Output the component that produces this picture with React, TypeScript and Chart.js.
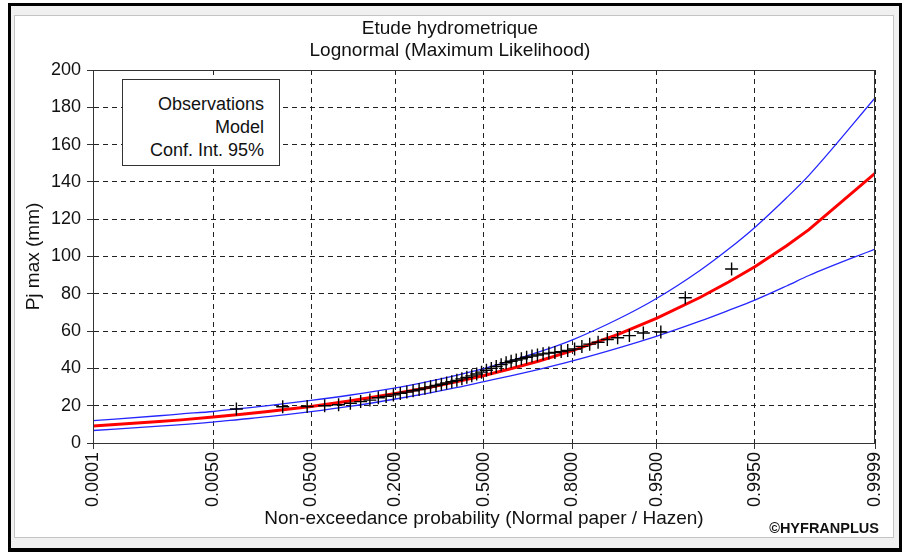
import { useEffect, useRef } from 'react';
import { Chart, registerables } from 'chart.js';

Chart.register(...registerables);

const chartTitle = ['Etude hydrometrique', 'Lognormal (Maximum Likelihood)'];
const yAxisTitle = 'Pj max (mm)';
const xAxisTitle = 'Non-exceedance probability (Normal paper / Hazen)';
const legendLabels = ['Observations', 'Model', 'Conf. Int. 95%'];
const creditText = '\u00A9HYFRANPLUS';

const xTickProbs = [0.0001, 0.005, 0.05, 0.2, 0.5, 0.8, 0.95, 0.995, 0.9999];
const xTickLabels = ['0.0001', '0.0050', '0.0500', '0.2000', '0.5000', '0.8000', '0.9500', '0.9950', '0.9999'];
const yMin = 0;
const yMax = 200;
const yStep = 20;

// Fitted curve and confidence band, read at these non-exceedance probabilities
const curveProbs = [0.0001, 0.001, 0.002, 0.005, 0.01, 0.02, 0.05, 0.1, 0.2, 0.3, 0.4, 0.5, 0.6, 0.7, 0.8, 0.9, 0.95, 0.98, 0.99, 0.995, 0.998, 0.999, 0.9999];
const modelValues = [9.1, 11.5, 12.4, 13.9, 15.3, 16.9, 19.6, 22.5, 26.5, 29.8, 33.0, 36.2, 39.8, 44.0, 49.5, 58.4, 67.0, 78.0, 86.3, 94.5, 105.8, 114.4, 144.6];
const upperValues = [12.0, 14.6, 15.6, 16.9, 18.4, 20.0, 22.8, 25.6, 29.5, 33.0, 36.4, 39.9, 44.0, 48.8, 55.3, 66.6, 77.6, 92.5, 104.0, 115.6, 131.5, 143.5, 185.0];
const lowerValues = [6.7, 9.0, 9.9, 11.2, 12.6, 14.1, 16.8, 19.6, 23.6, 26.8, 29.8, 32.9, 36.0, 39.5, 44.0, 51.0, 57.3, 65.3, 71.1, 76.6, 84.2, 89.8, 104.0];

// Sorted observations (plotted at Hazen positions)
const observations = [
  18.2, 19.4, 19.6, 20.0, 20.5, 21.3, 22.2, 23.0, 24.3, 25.0,
  25.8, 26.6, 27.3, 28.0, 28.7, 29.4, 30.1, 30.8, 31.5, 32.2,
  32.9, 33.6, 34.4, 35.2, 36.0, 37.0, 38.0, 39.0, 40.0, 41.0,
  42.0, 43.0, 43.8, 44.5, 45.2, 46.0, 46.6, 47.2, 47.8, 48.2,
  48.5, 49.0, 49.6, 50.4, 51.8, 53.0, 54.0, 55.5, 56.4, 57.6,
  59.0, 59.5, 77.9, 93.3,
];

// Normal probability paper: inverse standard normal CDF (Acklam)
function normInv(p: number): number {
  const a = [-39.69683028665376, 220.9460984245205, -275.9285104469687, 138.357751867269, -30.66479806614716, 2.506628277459239];
  const b = [-54.47609879822406, 161.5858368580409, -155.6989798598866, 66.80131188771972, -13.28068155288572];
  const c = [-0.007784894002430293, -0.3223964580411365, -2.400758277161838, -2.549732539343734, 4.374664141464968, 2.938163982698783];
  const d = [0.007784695709041462, 0.3224671290700398, 2.445134137142996, 3.754408661907416];
  const pl = 0.02425;
  if (p < pl) {
    const q = Math.sqrt(-2 * Math.log(p));
    return (((((c[0] * q + c[1]) * q + c[2]) * q + c[3]) * q + c[4]) * q + c[5]) / ((((d[0] * q + d[1]) * q + d[2]) * q + d[3]) * q + 1);
  }
  if (p > 1 - pl) {
    const q = Math.sqrt(-2 * Math.log(1 - p));
    return -(((((c[0] * q + c[1]) * q + c[2]) * q + c[3]) * q + c[4]) * q + c[5]) / ((((d[0] * q + d[1]) * q + d[2]) * q + d[3]) * q + 1);
  }
  const q = p - 0.5;
  const r = q * q;
  return (((((a[0] * r + a[1]) * r + a[2]) * r + a[3]) * r + a[4]) * r + a[5]) * q / (((((b[0] * r + b[1]) * r + b[2]) * r + b[3]) * r + b[4]) * r + 1);
}

const FONT = "'Liberation Sans', Arial, sans-serif";

const framePlugin = {
  id: 'frame',
  afterDatasetsDraw(chart: any) {
    const { ctx, chartArea } = chart;
    const { left, top, right, bottom } = chartArea;
    ctx.save();
    ctx.strokeStyle = '#333';
    ctx.lineWidth = 1;
    ctx.setLineDash([]);
    ctx.strokeRect(Math.round(left) + 0.5, Math.round(top) + 0.5, Math.round(right - left) - 1, Math.round(bottom - top));
    ctx.restore();
  },
};

export default function App() {
  const canvasRef = useRef<HTMLCanvasElement | null>(null);

  useEffect(() => {
    if (!canvasRef.current) return;
    const zTicks = xTickProbs.map(normInv);
    const n = observations.length;
    const obsPoints = observations.map((v, i) => ({ x: normInv((i + 0.5) / n), y: v }));
    const toPts = (vals: number[]) => curveProbs.map((p, i) => ({ x: normInv(p), y: vals[i] }));

    const chart = new Chart(canvasRef.current, {
      type: 'scatter',
      data: {
        datasets: [
          {
            label: legendLabels[0],
            data: obsPoints,
            showLine: false,
            pointStyle: 'cross',
            pointRadius: 6.5,
            pointBorderWidth: 1.4,
            pointBorderColor: '#000',
            borderColor: '#000',
            backgroundColor: '#000',
          },
          {
            label: legendLabels[1],
            data: toPts(modelValues),
            showLine: true,
            borderColor: '#ff0000',
            borderWidth: 3,
            pointRadius: 0,
            tension: 0,
          },
          {
            label: legendLabels[2],
            data: toPts(upperValues),
            showLine: true,
            borderColor: '#2626ff',
            borderWidth: 1.3,
            pointRadius: 0,
            cubicInterpolationMode: 'monotone',
          },
          {
            label: legendLabels[2] + ' (lower)',
            data: toPts(lowerValues),
            showLine: true,
            borderColor: '#2626ff',
            borderWidth: 1.3,
            pointRadius: 0,
            cubicInterpolationMode: 'monotone',
          },
        ],
      },
      options: {
        animation: false,
        responsive: false,
        devicePixelRatio: 1,
        events: [],
        layout: { padding: { left: 0, top: 70, right: 29, bottom: 0 } },
        plugins: {
          legend: { display: false },
          title: { display: false },
          tooltip: { enabled: false },
        },
        scales: {
          x: {
            type: 'linear',
            min: zTicks[0],
            max: zTicks[zTicks.length - 1],
            afterBuildTicks: (scale: any) => {
              scale.ticks = zTicks.map((v) => ({ value: v }));
            },
            afterFit: (scale: any) => {
              scale.height = 109;
              scale.paddingLeft = 0;
              scale.paddingRight = 0;
            },
            ticks: {
              autoSkip: false,
              minRotation: 90,
              maxRotation: 90,
              padding: 3,
              color: '#111',
              font: { family: FONT, size: 18 },
              callback: (_v: any, i: number) => xTickLabels[i],
            },
            grid: {
              color: '#222',
              lineWidth: 1,
              tickLength: 6,
              tickColor: '#333',
            },
            border: { display: true, color: '#333', width: 1, dash: [5, 4] },
            title: {
              display: true,
              text: xAxisTitle,
              color: '#111',
              font: { family: FONT, size: 19 },
              padding: { top: 0, bottom: 22 },
            },
          },
          y: {
            type: 'linear',
            min: yMin,
            max: yMax,
            afterFit: (scale: any) => {
              scale.width = 93;
              scale.paddingTop = 0;
              scale.paddingBottom = 0;
            },
            ticks: {
              stepSize: yStep,
              padding: 6,
              color: '#111',
              font: { family: FONT, size: 18 },
            },
            grid: {
              color: '#222',
              lineWidth: 1,
              tickLength: 6,
              tickColor: '#333',
            },
            border: { display: true, color: '#333', width: 1, dash: [5, 4] },
            title: {
              display: true,
              text: yAxisTitle,
              color: '#111',
              font: { family: FONT, size: 19 },
              padding: { top: 22, bottom: 0 },
            },
          },
        },
      },
      plugins: [framePlugin],
    });
    return () => chart.destroy();
  }, []);

  return (
    <div style={{ position: 'absolute', left: 0, top: 0, width: 904, height: 552, background: '#fff', overflow: 'hidden', fontFamily: FONT }}>
      <div style={{ position: 'absolute', left: 8, top: 3, width: 894, height: 549, boxSizing: 'border-box', border: '3px solid #000', borderBottomWidth: 4, background: '#f0f0f0' }} />
      <div style={{ position: 'absolute', left: 14, top: 15, width: 880, height: 523, boxSizing: 'border-box', border: '1px solid #c4c4c4', background: '#fff' }} />
      <canvas ref={canvasRef} width={904} height={552} style={{ position: 'absolute', left: 0, top: 0, width: 904, height: 552, display: 'block' }} />
      <div style={{ position: 'absolute', left: 250, top: 17, width: 400, textAlign: 'center', fontSize: 19, lineHeight: '22px', color: '#111' }}>
        <div>{chartTitle[0]}</div>
        <div>{chartTitle[1]}</div>
      </div>
      <div style={{ position: 'absolute', left: 122, top: 79, width: 158, height: 87, boxSizing: 'border-box', border: '1px solid #333', background: '#fff', paddingTop: 13, paddingRight: 15, textAlign: 'right', fontSize: 18, lineHeight: '23px', color: '#111' }}>
        {legendLabels.map((l) => (
          <div key={l}>{l}</div>
        ))}
      </div>
      <div style={{ position: 'absolute', left: 679, top: 519, width: 200, textAlign: 'right', fontSize: 14.5, fontWeight: 'bold', lineHeight: '18px', color: '#111' }}>
        {creditText}
      </div>
    </div>
  );
}
